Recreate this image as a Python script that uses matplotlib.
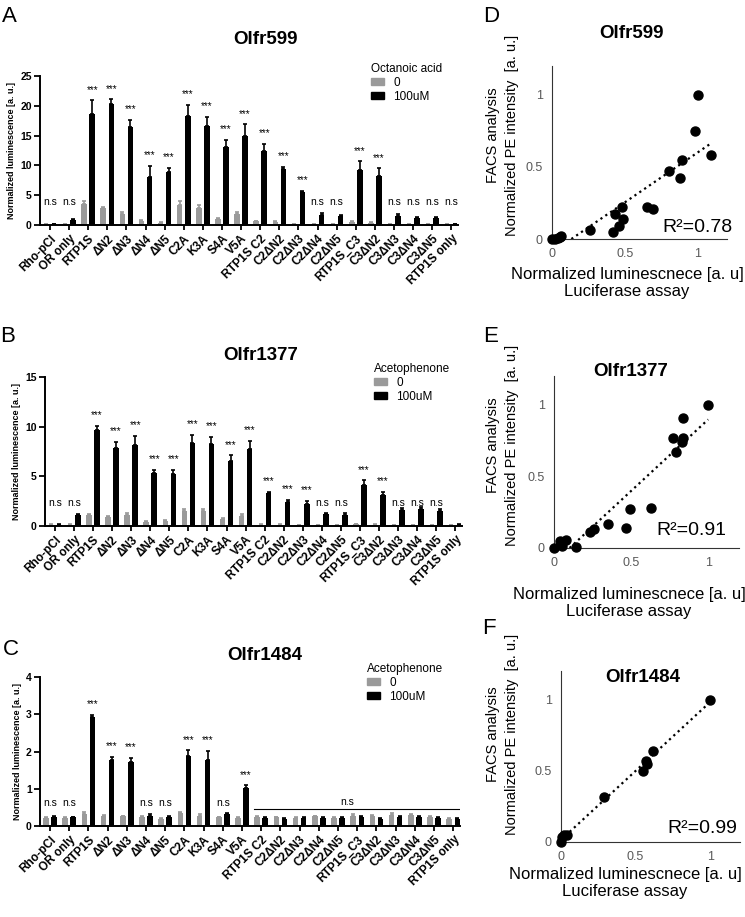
import matplotlib
matplotlib.use('Agg')
import matplotlib.pyplot as plt
from matplotlib.patches import Patch
import numpy as np

plt.rcParams['font.family'] = ['Liberation Sans', 'DejaVu Sans']

# ---- data ----
categories = ['Rho-pCI', 'OR only', 'RTP1S', 'ΔN2', 'ΔN3', 'ΔN4', 'ΔN5', 'C2A', 'K3A', 'S4A', 'V5A',
              'RTP1S C2', 'C2ΔN2', 'C2ΔN3', 'C2ΔN4', 'C2ΔN5', 'RTP1S_C3', 'C3ΔN2', 'C3ΔN3', 'C3ΔN4',
              'C3ΔN5', 'RTP1S only']
doses = ['0', '100uM']

# Olfr599 (octanoic acid)
a_ctrl = [0.2, 0.2, 3.5, 2.8, 1.8, 0.6, 0.4, 3.3, 2.8, 1.0, 1.8, 0.6, 0.5, 0.2, 0.15, 0.15, 0.5, 0.4, 0.15, 0.1, 0.1, 0.2]
a_ctrl_err = [0.05, 0.05, 0.55, 0.15, 0.3, 0.2, 0.1, 0.65, 0.5, 0.1, 0.45, 0.15, 0.1, 0.05, 0.05, 0.05, 0.1, 0.1, 0.05, 0.05, 0.05, 0.05]
a_stim = [0.2, 0.8, 18.6, 20.3, 16.5, 8.1, 8.9, 18.3, 16.6, 13.1, 14.9, 12.4, 9.4, 5.5, 1.7, 1.45, 9.3, 8.3, 1.55, 1.15, 1.15, 0.2]
a_stim_err = [0.05, 0.25, 2.3, 0.8, 1.2, 1.8, 0.7, 1.9, 1.6, 1.2, 2.0, 1.2, 0.4, 0.2, 0.3, 0.15, 1.4, 1.2, 0.25, 0.15, 0.25, 0.05]
a_sig = ['n.s', 'n.s', '***', '***', '***', '***', '***', '***', '***', '***', '***', '***', '***', '***',
         'n.s', 'n.s', '***', '***', 'n.s', 'n.s', 'n.s', 'n.s']

# Olfr1377 (acetophenone)
b_ctrl = [0.15, 0.15, 1.15, 0.9, 1.1, 0.45, 0.5, 1.5, 1.55, 0.7, 1.05, 0.15, 0.15, 0.1, 0.12, 0.12, 0.2, 0.15, 0.12, 0.1, 0.12, 0.1]
b_ctrl_err = [0.03, 0.05, 0.1, 0.15, 0.2, 0.08, 0.08, 0.25, 0.2, 0.12, 0.12, 0.03, 0.03, 0.02, 0.03, 0.03, 0.05, 0.03, 0.03, 0.02, 0.03, 0.02]
b_stim = [0.15, 1.1, 9.65, 7.9, 8.15, 5.3, 5.2, 8.35, 8.3, 6.5, 7.8, 3.35, 2.4, 2.25, 1.2, 1.15, 4.1, 3.15, 1.65, 1.75, 1.5, 0.15]
b_stim_err = [0.05, 0.15, 0.45, 0.6, 0.95, 0.35, 0.45, 0.85, 0.65, 0.6, 0.8, 0.08, 0.2, 0.25, 0.15, 0.15, 0.5, 0.3, 0.15, 0.15, 0.25, 0.05]
b_sig = ['n.s', 'n.s', '***', '***', '***', '***', '***', '***', '***', '***', '***', '***', '***', '***',
         'n.s', 'n.s', '***', '***', 'n.s', 'n.s', 'n.s', '']

# Olfr1484 (acetophenone)
c_ctrl = [0.22, 0.21, 0.33, 0.26, 0.26, 0.25, 0.2, 0.34, 0.28, 0.23, 0.22, 0.24, 0.23, 0.22, 0.26, 0.21, 0.28, 0.27, 0.30, 0.29, 0.24, 0.2]
c_ctrl_err = [0.02, 0.02, 0.04, 0.03, 0.02, 0.01, 0.02, 0.04, 0.04, 0.02, 0.02, 0.02, 0.02, 0.02, 0.02, 0.02, 0.03, 0.03, 0.05, 0.03, 0.02, 0.02]
c_stim = [0.24, 0.23, 2.92, 1.76, 1.72, 0.28, 0.24, 1.89, 1.78, 0.31, 1.03, 0.21, 0.2, 0.21, 0.22, 0.22, 0.25, 0.2, 0.25, 0.23, 0.22, 0.19]
c_stim_err = [0.02, 0.02, 0.07, 0.1, 0.1, 0.03, 0.02, 0.14, 0.24, 0.04, 0.06, 0.02, 0.02, 0.02, 0.02, 0.02, 0.03, 0.02, 0.03, 0.03, 0.02, 0.02]
c_sig = ['n.s', 'n.s', '***', '***', '***', 'n.s', 'n.s', '***', '***', 'n.s', '***'] + [''] * 11

# scatter: luciferase vs FACS
d_x = [0, 0.02, 0.04, 0.055, 0.065, 0.26, 0.42, 0.43, 0.46, 0.48, 0.49, 0.65, 0.69, 0.80, 0.88, 0.89, 0.98, 1.0, 1.09]
d_y = [0, 0.0, 0.01, 0.015, 0.02, 0.06, 0.05, 0.17, 0.09, 0.22, 0.14, 0.22, 0.21, 0.47, 0.42, 0.55, 0.75, 1.0, 0.58]
e_x = [0, 0.04, 0.055, 0.076, 0.145, 0.236, 0.26, 0.35, 0.47, 0.49, 0.63, 0.77, 0.79, 0.83, 0.84, 0.84, 1.0]
e_y = [0, 0.05, 0.016, 0.053, 0.01, 0.11, 0.13, 0.17, 0.14, 0.27, 0.28, 0.77, 0.67, 0.74, 0.77, 0.91, 1.0]
f_x = [0, 0.005, 0.02, 0.04, 0.29, 0.55, 0.57, 0.575, 0.615, 1.0]
f_y = [0, 0.035, 0.047, 0.05, 0.315, 0.5, 0.565, 0.545, 0.64, 1.0]
r2_labels = ['R²=0.78', 'R²=0.91', 'R²=0.99']

GRAY = '#9a9a9a'
W, H = 745, 917
fig = plt.figure(figsize=(W / 100, H / 100), dpi=100)


def px_axes(l, t, r, b):
    # axes from pixel box (left, top, right, bottom)
    return fig.add_axes([l / W, 1 - b / H, (r - l) / W, (b - t) / H])


def bar_panel(box, ctrl, ctrl_err, stim, stim_err, sig, ymax, ystep, title, title_xy, ligand, leg_xy):
    ax = px_axes(*box)
    x = np.arange(len(categories))
    zeros = np.zeros(len(categories))
    ax.bar(x - 0.21, ctrl, 0.29, color=GRAY, yerr=[zeros, ctrl_err],
           error_kw=dict(ecolor=GRAY, elinewidth=1.2, capsize=1.5, capthick=1.2))
    ax.bar(x + 0.21, stim, 0.29, color='black', yerr=[zeros, stim_err],
           error_kw=dict(ecolor='black', elinewidth=1.2, capsize=1.5, capthick=1.2))

    for i, s in enumerate(sig):
        if s == '***':
            ax.annotate(s, (x[i] + 0.21, stim[i] + stim_err[i]), xytext=(0, 5.5),
                        textcoords='offset points', ha='center', va='baseline', fontsize=7)
        elif s == 'n.s':
            ax.text(x[i], 0.135 * ymax, s, ha='center', va='baseline', fontsize=7.5)

    ax.set_xlim(-0.52, 21.35)
    ax.set_ylim(0, ymax)
    ax.set_yticks(np.arange(0, ymax + 0.01, ystep))
    ax.set_xticks(x)
    ax.set_xticklabels(categories, rotation=45, ha='right', rotation_mode='anchor',
                       fontsize=8.5, fontweight='bold')
    for lab in ax.get_yticklabels():
        lab.set_fontweight('bold')
    ax.tick_params(axis='y', labelsize=7.5, length=4, width=1.3, pad=2)
    ax.tick_params(axis='x', length=3.5, width=1.3, pad=2)
    ax.spines['top'].set_visible(False)
    ax.spines['right'].set_visible(False)
    ax.spines['left'].set_linewidth(1.4)
    ax.spines['bottom'].set_linewidth(1.4)
    ax.set_ylabel('Normalized luminescence [a. u.]', fontsize=6.5, fontweight='bold', labelpad=3)

    fig.text(title_xy[0] / W, 1 - title_xy[1] / H, title, fontsize=13.5, fontweight='bold',
             ha='center', va='center')
    handles = [Patch(color=GRAY), Patch(color='black')]
    ax.legend(handles, doses, title=ligand, loc='upper left',
              bbox_to_anchor=(leg_xy[0] / W, 1 - leg_xy[1] / H), bbox_transform=fig.transFigure,
              frameon=False, fontsize=8.5, title_fontsize=8.5, handlelength=1.1, handleheight=0.5,
              handletextpad=0.8, labelspacing=0.15, borderpad=0, borderaxespad=0, alignment='left')
    return ax


def scatter_panel(box, xs, ys, r2, xmax, r2_xy, title, title_xy, ylab_y, xlab_xy):
    ax = px_axes(*box)
    xs = np.array(xs)
    ys = np.array(ys)
    ax.plot(xs, ys, 'o', color='black', ms=6.5, clip_on=False, zorder=3)
    a, b = np.polyfit(xs, ys, 1)
    xx = np.array([max(-b / a, 0), xs.max()])
    ax.plot(xx, a * xx + b, ':', color='black', lw=1.6)
    ax.set_xlim(0, xmax)
    ax.set_ylim(0, 1.2)
    ax.set_xticks([0, 0.5, 1])
    ax.set_xticklabels(['0', '0.5', '1'])
    ax.set_yticks([0, 0.5, 1])
    ax.set_yticklabels(['0', '0.5', '1'])
    ax.tick_params(length=0, pad=6.5, labelsize=9, labelcolor='#595959')
    ax.spines['top'].set_visible(False)
    ax.spines['right'].set_visible(False)
    ax.spines['left'].set_color('#333333')
    ax.spines['bottom'].set_color('#333333')
    ax.text(r2_xy[0], r2_xy[1], r2, ha='right', va='baseline', fontsize=14)

    fig.text(title_xy[0] / W, 1 - title_xy[1] / H, title, fontsize=13.5, fontweight='bold',
             ha='center', va='center')
    # two-line y label, one text per line
    fig.text(493 / W, 1 - ylab_y / H, 'FACS analysis', rotation=90, ha='center', va='center', fontsize=10.5)
    fig.text(512 / W, 1 - ylab_y / H, 'Normalized PE intensity  [a. u.]', rotation=90,
             ha='center', va='center', fontsize=10.5)
    fig.text(xlab_xy[0] / W, 1 - xlab_xy[1] / H, 'Normalized luminescnece [a. u]\nLuciferase assay',
             ha='center', va='center', ma='center', fontsize=12)
    return ax


bar_panel((40, 76, 458, 225), a_ctrl, a_ctrl_err, a_stim, a_stim_err, a_sig, 25, 5,
          'Olfr599', (265, 40), 'Octanoic acid', (371, 63))
bar_panel((45, 377, 462, 526), b_ctrl, b_ctrl_err, b_stim, b_stim_err, b_sig, 15, 5,
          'Olfr1377', (261, 356), 'Acetophenone', (374, 363))
ax_c = bar_panel((40, 677, 460, 826), c_ctrl, c_ctrl_err, c_stim, c_stim_err, c_sig, 4, 1,
                 'Olfr1484', (265, 656), 'Acetophenone', (367, 663))
# n.s bracket over the C2 / C3 constructs
ax_c.plot([10.6, 21.3], [0.45, 0.45], color='black', lw=0.8)
ax_c.text(15.5, 0.5, 'n.s', ha='center', va='bottom', fontsize=7.5)

scatter_panel((552, 66, 727, 239), d_x, d_y, r2_labels[0], 1.2, (1.24, 0.05),
              'Olfr599', (632, 33), 135, (627, 283))
scatter_panel((554, 376, 739, 548), e_x, e_y, r2_labels[1], 1.2, (1.12, 0.09),
              'Olfr1377', (631, 371), 445, (629, 603))
scatter_panel((561, 671, 740, 842), f_x, f_y, r2_labels[2], 1.2, (1.18, 0.063),
              'Olfr1484', (643, 678), 734, (625, 883))

for letter, lx, ly in [('A', 2, 22), ('B', 0, 342), ('C', 3, 655),
                       ('D', 483, 22), ('E', 483, 342), ('F', 482, 634)]:
    fig.text(lx / W, 1 - ly / H, letter, fontsize=16, va='baseline', ha='left')

fig.savefig('out.png', dpi=100)
